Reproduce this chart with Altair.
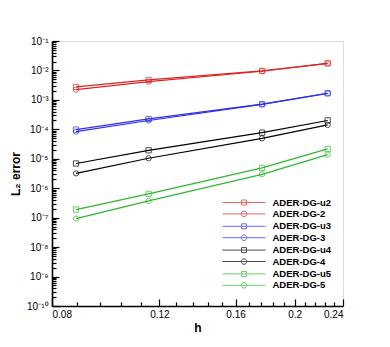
import altair as alt
import pandas as pd

# ---- data ----
h_vals = [0.0876, 0.1152, 0.1768, 0.2265]
series_names = ["ADER-DG-u2", "ADER-DG-2", "ADER-DG-u3", "ADER-DG-3",
                "ADER-DG-u4", "ADER-DG-4", "ADER-DG-u5", "ADER-DG-5"]
err_u2 = [2.75e-3, 4.75e-3, 9.7e-3, 1.75e-2]
err_2 = [2.22e-3, 4.16e-3, 9.4e-3, 1.73e-2]
err_u3 = [9.8e-5, 2.25e-4, 7.2e-4, 1.68e-3]
err_3 = [8.4e-5, 2.0e-4, 7.0e-4, 1.66e-3]
err_u4 = [6.9e-6, 1.94e-5, 7.7e-5, 2.0e-4]
err_4 = [3.2e-6, 1.04e-5, 4.95e-5, 1.41e-4]
err_u5 = [1.88e-7, 6.45e-7, 4.9e-6, 2.16e-5]
err_5 = [9.3e-8, 3.7e-7, 2.97e-6, 1.39e-5]
series_errs = [err_u2, err_2, err_u3, err_3, err_u4, err_4, err_u5, err_5]
series_markers = ["square", "circle"] * 4
series_colors = ["#e02424", "#e02424", "#2f2fe8", "#2f2fe8",
                 "#000000", "#000000", "#2db82d", "#2db82d"]

x_label_ticks = [0.08, 0.12, 0.16, 0.2, 0.24]
x_all_ticks = [round(0.08 + 0.008 * i, 3) for i in range(21)]
y_exponents = list(range(-1, -11, -1))
y_decades = [10.0 ** e for e in y_exponents]
y_all_ticks = [k * 10.0 ** e for e in range(-10, -1) for k in range(1, 10)] + [0.1]

rows = []
for name, errs, mk in zip(series_names, series_errs, series_markers):
    for h, e in zip(h_vals, errs):
        rows.append({"h": h, "err": e, "series": name, "marker": mk})
df = pd.DataFrame(rows)

# ---- styling ----
FONT = "Liberation Sans"
W, H = 291, 265

sup = {"-": "\u207b", "0": "\u2070", "1": "\u00b9", "2": "\u00b2", "3": "\u00b3",
       "4": "\u2074", "5": "\u2075", "6": "\u2076", "7": "\u2077", "8": "\u2078", "9": "\u2079"}
y_labels = ["10" + "".join(sup[c] for c in str(e)) for e in y_exponents]
y_label_expr = "[" + ",".join("'%s'" % s for s in y_labels) + "][round(-log(datum.value)/LN10)-1]"

xscale = alt.Scale(type="log", domain=[0.08, 0.24], nice=False)
yscale = alt.Scale(type="log", domain=[1e-10, 1e-1], nice=False)
cscale = alt.Scale(domain=series_names, range=series_colors)


def legend_path(kind):
    line = "M-7.6,0H1"
    if kind == "square":
        m = "M-3.8,-0.5H-2.8V0.5H-3.8Z"
    else:
        m = "M-3.86,0A0.56,0.56 0 1,0 -2.74,0A0.56,0.56 0 1,0 -3.86,0"
    return line + m


legend_paths = [legend_path(k) for k in series_markers]

x_major_test = "abs(datum.value/0.04 - round(datum.value/0.04)) < 1e-6"
y_major_test = "abs(log(datum.value)/LN10 - round(log(datum.value)/LN10)) < 1e-6"

base = alt.Chart(df)

lines = base.mark_line(strokeWidth=1.2).encode(
    x=alt.X("h:Q", scale=xscale, axis=alt.Axis(
        orient="bottom", values=x_label_ticks, format="~g", ticks=False, grid=False,
        domainColor="black", domainWidth=1.6, labelFont=FONT, labelFontSize=10,
        labelColor="black", labelPadding=3, title="h", titleFont=FONT,
        titleFontSize=12, titleFontWeight="bold", titleColor="black", titlePadding=3)),
    y=alt.Y("err:Q", scale=yscale, axis=alt.Axis(
        orient="left", values=y_decades, labelExpr=y_label_expr, ticks=False, grid=False,
        domainColor="black", domainWidth=1.6, labelFont=FONT, labelFontSize=10,
        labelColor="black", labelPadding=4, title="L\u2082 error", titleFont=FONT,
        titleFontSize=12, titleFontWeight="bold", titleColor="black", titlePadding=4)),
    color=alt.Color("series:N", scale=cscale, legend=None),
    detail="series:N",
)

points = base.mark_point(filled=False, size=28, strokeWidth=1).encode(
    x=alt.X("h:Q", scale=xscale, axis=alt.Axis(
        orient="top", offset=-H, values=x_all_ticks, labels=False, domain=False,
        grid=False, tickColor="black", tickWidth=1.2,
        tickSize={"condition": {"test": x_major_test, "value": 7}, "value": 4},
        title=None)),
    y=alt.Y("err:Q", scale=yscale, axis=alt.Axis(
        orient="right", offset=-W, values=y_all_ticks, labels=False, domain=False,
        grid=False, tickColor="black", tickWidth=1.2,
        tickSize={"condition": {"test": y_major_test, "value": 7}, "value": 4},
        title=None)),
    color=alt.Color("series:N", scale=cscale, legend=None),
    shape=alt.Shape("marker:N", scale=alt.Scale(domain=["square", "circle"],
                                                range=["square", "circle"]), legend=None),
)

leg = alt.Legend(orient="none", legendX=203, legendY=156, title=None, labelFont=FONT,
                 labelFontSize=9.5, labelFontWeight="bold", labelColor="black",
                 labelOffset=6.5, symbolSize=100, symbolStrokeWidth=1, rowPadding=1.4,
                 padding=0, labelLimit=200)

legend_layer = base.mark_point(filled=False, strokeWidth=1).encode(
    x=alt.X("h:Q", scale=xscale, axis=None),
    y=alt.Y("err:Q", scale=yscale, axis=None),
    color=alt.Color("series:N", scale=alt.Scale(domain=series_names, range=series_colors),
                    legend=leg),
    shape=alt.Shape("series:N", scale=alt.Scale(domain=series_names, range=legend_paths),
                    legend=leg),
).transform_filter("false")

chart = alt.layer(lines, points, legend_layer).resolve_scale(
    color="independent", shape="independent"
).resolve_axis(
    x="independent", y="independent"
).properties(
    width=W, height=H, autosize="none",
    padding={"left": 44, "top": 33, "right": 30, "bottom": 30},
).configure_view(stroke=None).configure(background="white")

chart.save("out.html", embed_options={"renderer": "svg", "actions": False})
